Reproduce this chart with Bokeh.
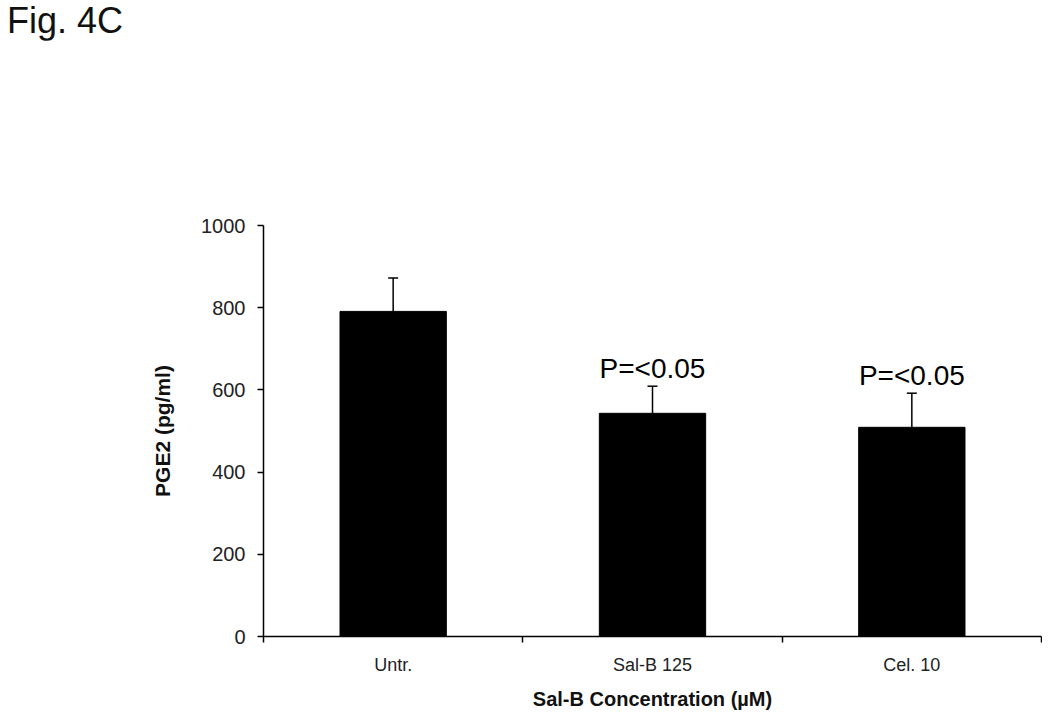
import numpy as np
from bokeh.plotting import figure
from bokeh.models import (ColumnDataSource, Range1d, FixedTicker, Whisker, TeeHead, Div)
from bokeh.layouts import column
from bokeh.core.properties import value
from bokeh.embed import file_html
from bokeh.resources import INLINE

# ---- data ----
categories = ["Untr.", "Sal-B 125", "Cel. 10"]
pge2 = [791, 543, 509]
sem = [81, 66, 83]
annotations = ["", "P=<0.05", "P=<0.05"]
y_ticks = [0, 200, 400, 600, 800, 1000]
fig_title = "Fig. 4C"

FONT = "Liberation Sans"

xs = np.arange(len(categories)) + 0.5
upper = [v + e for v, e in zip(pge2, sem)]
src = ColumnDataSource(dict(x=xs, top=pge2, upper=upper, lower=pge2, note=annotations))

div = Div(text='<span style="position:relative; top:3px; left:7px;">%s</span>' % fig_title,
          width=300, height=40, margin=0,
          styles={"font-family": FONT, "font-size": "36px", "line-height": "36px",
                  "color": "#111"})

p = figure(width=1042, height=676, output_backend="svg", toolbar_location=None,
           x_range=Range1d(0, len(categories)), y_range=Range1d(0, 1000),
           min_border_left=263, min_border_right=1, min_border_top=185, min_border_bottom=80,
           margin=0)
p.outline_line_color = None
p.xgrid.grid_line_color = None
p.ygrid.grid_line_color = None
p.background_fill_color = "white"
p.border_fill_color = "white"

p.vbar(x="x", top="top", width=0.41, source=src, fill_color="black", line_color="black")

w = Whisker(base="x", upper="upper", lower="lower", source=src,
            line_color="black", line_width=1.5,
            upper_head=TeeHead(size=10, line_color="black", line_width=1.5),
            lower_head=None)
p.add_layout(w)

p.text(x="x", y="upper", text="note", source=src, text_align="center",
       text_baseline="alphabetic", y_offset=-18, text_font=value(FONT),
       text_font_size="28px", text_color="black")

# x axis
xa = p.xaxis[0]
xa.ticker = FixedTicker(ticks=list(xs), minor_ticks=list(range(len(categories) + 1)))
xa.major_label_overrides = {float(x): c for x, c in zip(xs, categories)}
xa.major_tick_line_color = None
xa.major_tick_out = 6
xa.major_tick_in = 0
xa.minor_tick_line_color = "black"
xa.minor_tick_out = 6
xa.minor_tick_in = 0
xa.minor_tick_line_width = 1.5
xa.axis_line_color = "black"
xa.axis_line_width = 1.5
xa.major_label_text_font = FONT
xa.major_label_text_font_size = "18px"
xa.major_label_text_color = "#222"
xa.major_label_standoff = 12
xa.axis_label = "Sal-B Concentration (µM)"
xa.axis_label_text_font = FONT
xa.axis_label_text_font_style = "bold"
xa.axis_label_text_font_size = "20px"
xa.axis_label_text_color = "#111"
xa.axis_label_standoff = 10

# y axis
ya = p.yaxis[0]
ya.ticker = FixedTicker(ticks=y_ticks, minor_ticks=[])
ya.major_tick_out = 6
ya.major_tick_in = 0
ya.major_tick_line_color = "black"
ya.major_tick_line_width = 1.5
ya.axis_line_color = "black"
ya.axis_line_width = 1.5
ya.major_label_text_font = FONT
ya.major_label_text_font_size = "20px"
ya.major_label_text_color = "#222"
ya.major_label_standoff = 12
ya.axis_label = "PGE2 (pg/ml)"
ya.axis_label_text_font = FONT
ya.axis_label_text_font_style = "bold"
ya.axis_label_text_font_size = "21px"
ya.axis_label_text_color = "#111"
ya.axis_label_standoff = 24

layout = column(div, p, spacing=0, margin=0)
open("out.html", "w").write(file_html(layout, INLINE))
